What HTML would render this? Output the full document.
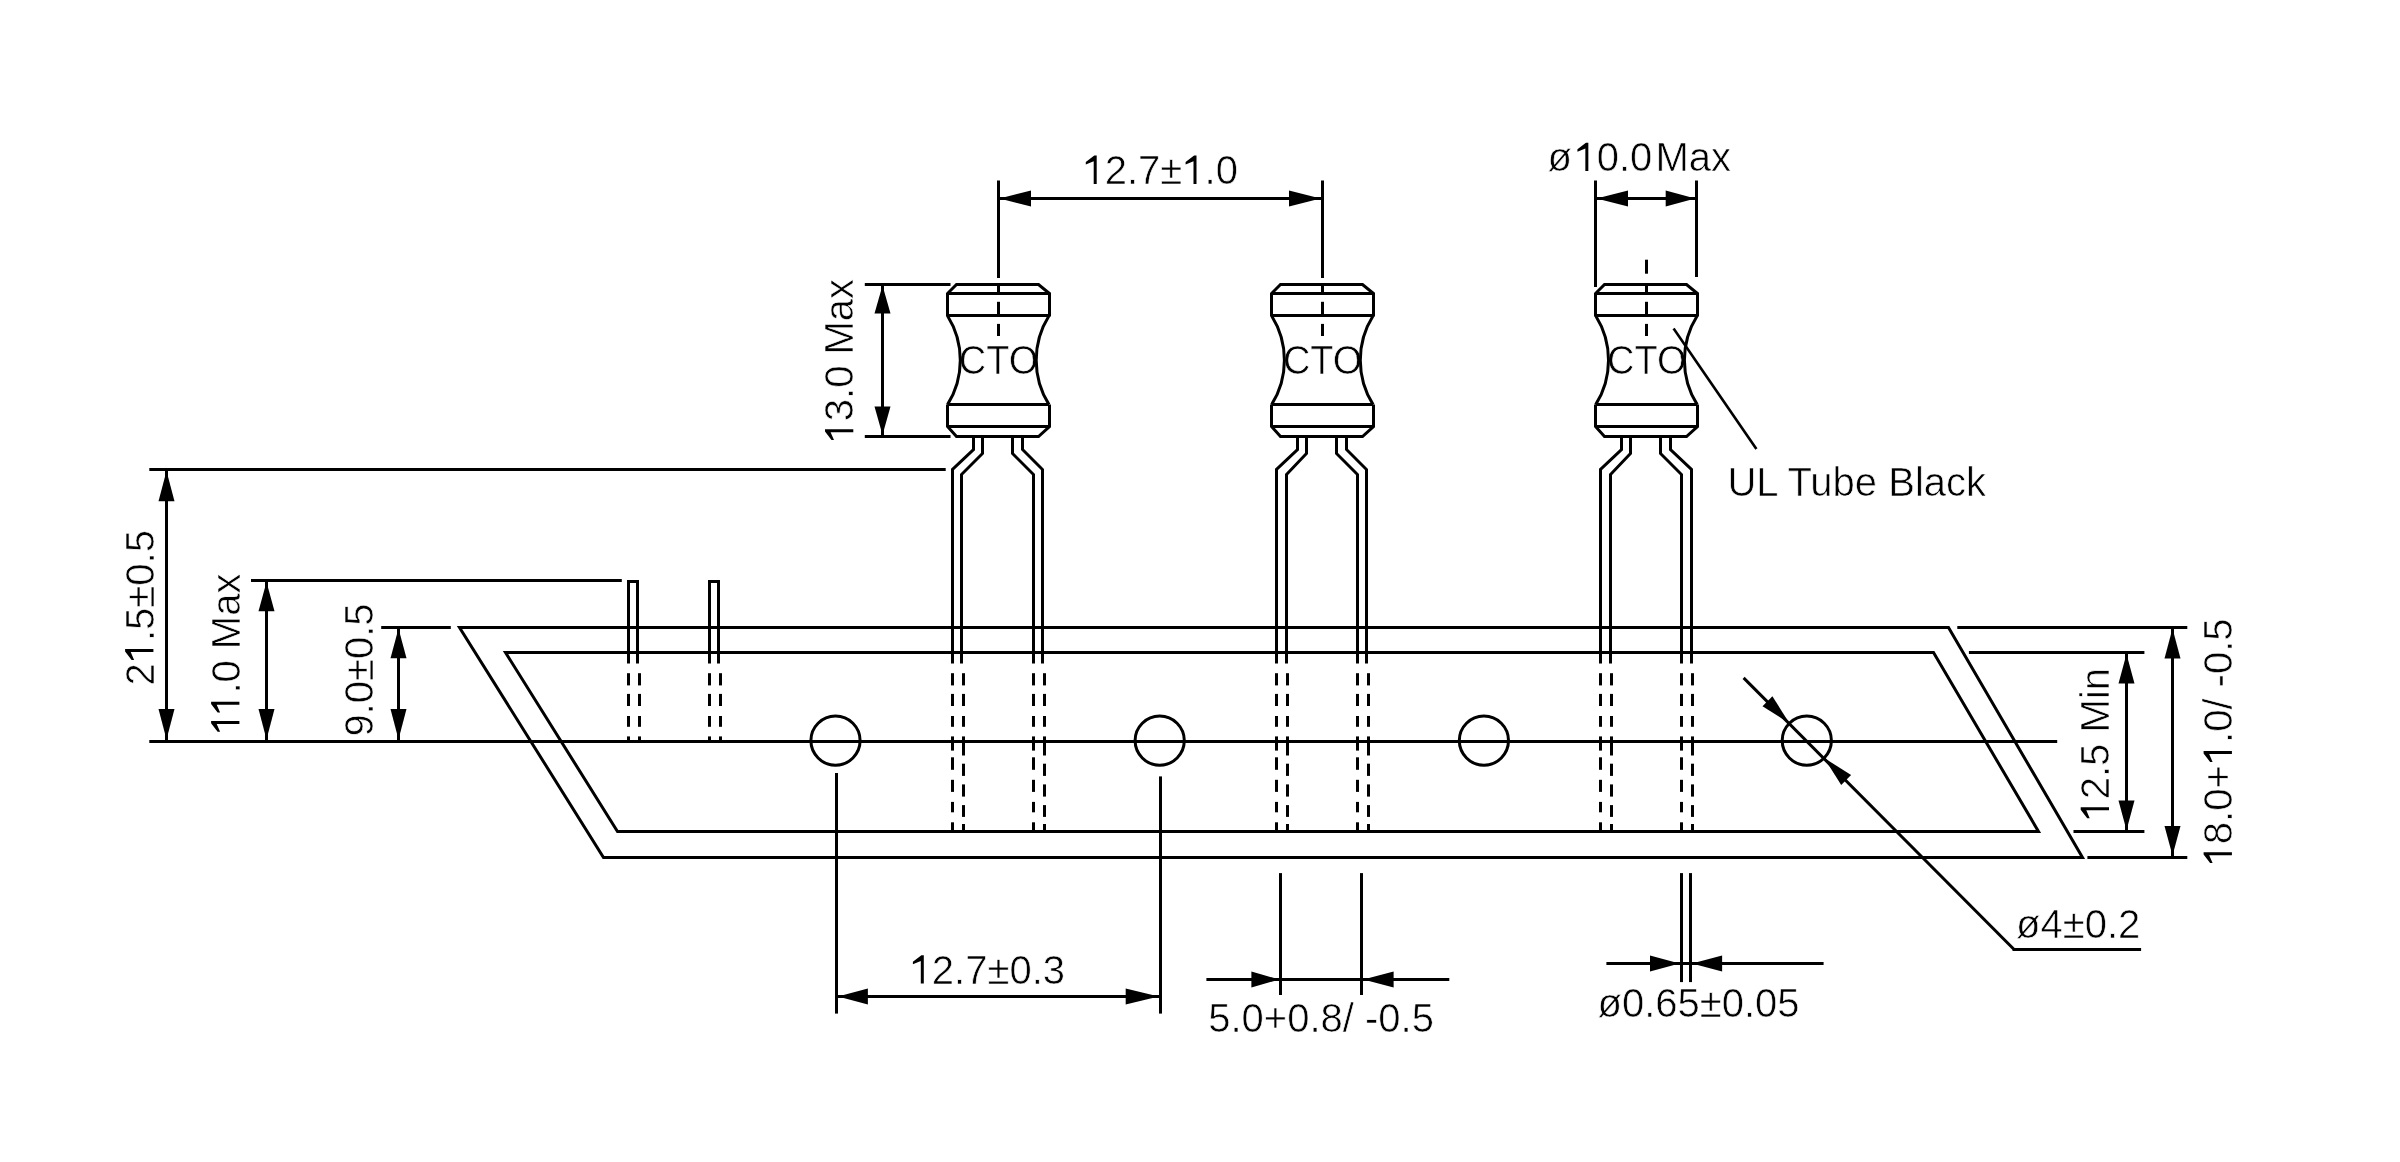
<!DOCTYPE html>
<html><head><meta charset="utf-8"><style>
html,body{margin:0;padding:0;background:#fff;width:2400px;height:1162px;overflow:hidden}
svg{display:block;will-change:transform}
text{font-family:"Liberation Sans",sans-serif;font-size:40px;fill:#000;stroke:#fff;stroke-width:0.6px}
</style></head><body>
<svg width="2400" height="1162" viewBox="0 0 2400 1162">
<rect width="2400" height="1162" fill="#fff"/>
<g stroke="#000" stroke-linecap="butt" stroke-linejoin="miter" fill="none">
<g transform="translate(1082.5,184.0)"><text x="0.00 22.23 44.48 55.59 77.84 99.80 122.05 133.16" y="0"> 2.7± .0</text><path d="M11.80,-28.40 L14.20,-28.40 L14.20,-0.10 L11.20,-0.10 L11.20,-22.80 L3.30,-19.40 L3.30,-21.90Z" fill="#000" stroke="none"/><path d="M111.60,-28.40 L114.00,-28.40 L114.00,-0.10 L111.00,-0.10 L111.00,-22.80 L103.10,-19.40 L103.10,-21.90Z" fill="#000" stroke="none"/></g>
<g transform="translate(1547.5,171.2)"><text x="0.00 26.64 49.19 71.44 82.56 108.01 141.34 163.59" y="0">ø 0.0Max</text><path d="M38.44,-28.40 L40.84,-28.40 L40.84,-0.10 L37.84,-0.10 L37.84,-22.80 L29.94,-19.40 L29.94,-21.90Z" fill="#000" stroke="none"/></g>
<g transform="translate(958.8,374.2) scale(0.95,1)"><text x="0.00 28.87 52.58" y="0">CTO</text></g>
<g transform="translate(1282.9,374.2) scale(0.95,1)"><text x="0.00 28.87 52.58" y="0">CTO</text></g>
<g transform="translate(1607.0,374.2) scale(0.95,1)"><text x="0.00 28.87 52.58" y="0">CTO</text></g>
<g transform="translate(153.5,685.5) rotate(-90)"><text x="0.00 22.23 44.48 55.59 77.84 99.80 122.05 133.16" y="0">2 .5±0.5</text><path d="M34.03,-28.40 L36.43,-28.40 L36.43,-0.10 L33.43,-0.10 L33.43,-22.80 L25.53,-19.40 L25.53,-21.90Z" fill="#000" stroke="none"/></g>
<g transform="translate(239.5,735.1) rotate(-90)"><text x="0.00 19.27 41.52 52.62 74.88 85.98 119.31 141.56" y="0">  .0 Max</text><path d="M11.80,-28.40 L14.20,-28.40 L14.20,-0.10 L11.20,-0.10 L11.20,-22.80 L3.30,-19.40 L3.30,-21.90Z" fill="#000" stroke="none"/><path d="M31.07,-28.40 L33.47,-28.40 L33.47,-0.10 L30.47,-0.10 L30.47,-22.80 L22.57,-19.40 L22.57,-21.90Z" fill="#000" stroke="none"/></g>
<g transform="translate(372.7,736.6) rotate(-90)"><text x="0.00 22.23 33.36 55.59 77.55 99.80 110.91" y="0">9.0±0.5</text></g>
<g transform="translate(853.4,443.4) rotate(-90)"><text x="0.00 22.23 44.48 55.59 77.84 88.95 122.28 144.53" y="0"> 3.0 Max</text><path d="M11.80,-28.40 L14.20,-28.40 L14.20,-0.10 L11.20,-0.10 L11.20,-22.80 L3.30,-19.40 L3.30,-21.90Z" fill="#000" stroke="none"/></g>
<g transform="translate(2232.0,866.4) rotate(-90)"><text x="0.00 22.23 44.48 55.59 77.84 101.20 123.45 134.56 156.81 167.92 179.03 192.36 214.61 225.72" y="0"> 8.0+ .0/ -0.5</text><path d="M11.80,-28.40 L14.20,-28.40 L14.20,-0.10 L11.20,-0.10 L11.20,-22.80 L3.30,-19.40 L3.30,-21.90Z" fill="#000" stroke="none"/><path d="M113.00,-28.40 L115.40,-28.40 L115.40,-0.10 L112.40,-0.10 L112.40,-22.80 L104.50,-19.40 L104.50,-21.90Z" fill="#000" stroke="none"/></g>
<g transform="translate(2109.1,821.5) rotate(-90)"><text x="0.00 22.23 44.48 55.59 77.84 88.95 122.28 131.17" y="0"> 2.5 Min</text><path d="M11.80,-28.40 L14.20,-28.40 L14.20,-0.10 L11.20,-0.10 L11.20,-22.80 L3.30,-19.40 L3.30,-21.90Z" fill="#000" stroke="none"/></g>
<g transform="translate(909.6,983.7)"><text x="0.00 22.23 44.48 55.59 77.84 99.80 122.05 133.16" y="0"> 2.7±0.3</text><path d="M11.80,-28.40 L14.20,-28.40 L14.20,-0.10 L11.20,-0.10 L11.20,-22.80 L3.30,-19.40 L3.30,-21.90Z" fill="#000" stroke="none"/></g>
<g transform="translate(1208.2,1032.3)"><text x="0.00 22.23 33.36 55.59 78.95 101.20 112.31 134.56 145.67 156.80 170.11 192.36 203.47" y="0">5.0+0.8/ -0.5</text></g>
<g transform="translate(1597.5,1016.8)"><text x="0.00 24.42 46.67 57.78 80.03 102.28 124.23 146.48 157.59 179.84" y="0">ø0.65±0.05</text></g>
<g transform="translate(2016.1,937.5)"><text x="0.00 24.42 46.67 68.62 90.88 101.98" y="0">ø4±0.2</text></g>
<g transform="translate(1727.4,495.6)"><text x="0.00 28.88 49.64 60.03 82.98 105.23 127.47 149.72 160.83 187.52 196.41 218.64 238.64" y="0">UL Tube Black</text></g>
<line x1="998.5" y1="180.5" x2="998.5" y2="278.0" stroke-width="3"/>
<line x1="1322.5" y1="180.5" x2="1322.5" y2="278.0" stroke-width="3"/>
<line x1="998.5" y1="198.5" x2="1322.0" y2="198.5" stroke-width="3"/>
<polygon points="999.5,198.5 1031.0,190.5 1031.0,206.5" fill="#000" stroke="none"/>
<polygon points="1320.5,198.5 1289.0,206.5 1289.0,190.5" fill="#000" stroke="none"/>
<line x1="1595.5" y1="180.5" x2="1595.5" y2="287.0" stroke-width="3"/>
<line x1="1696.5" y1="180.5" x2="1696.5" y2="277.0" stroke-width="3"/>
<line x1="1595.0" y1="198.5" x2="1696.7" y2="198.5" stroke-width="3"/>
<polygon points="1596.5,198.5 1628.0,190.5 1628.0,206.5" fill="#000" stroke="none"/>
<polygon points="1695.2,198.5 1665.7,206.5 1665.7,190.5" fill="#000" stroke="none"/>
<polyline points="947.5,316.5 947.5,293.5 956.5,284.5 1038.5,284.5 1049.5,293.5 1049.5,316.5" fill="none" stroke-width="3"/>
<line x1="947.5" y1="293.5" x2="1049.0" y2="293.5" stroke-width="3"/>
<line x1="947.5" y1="315.5" x2="1049.0" y2="315.5" stroke-width="3"/>
<path d="M947.5,315.7 A83.6,83.6 0 0 1 947.5,404.6" fill="none" stroke-width="3"/>
<path d="M1049.0,315.7 A83.6,83.6 0 0 0 1049.0,404.6" fill="none" stroke-width="3"/>
<polyline points="947.5,404.5 947.5,426.5 956.5,436.5 1038.5,436.5 1049.5,426.5 1049.5,404.5" fill="none" stroke-width="3"/>
<line x1="947.5" y1="404.5" x2="1049.0" y2="404.5" stroke-width="3"/>
<line x1="947.5" y1="426.5" x2="1049.0" y2="426.5" stroke-width="3"/>
<line x1="998.5" y1="284.1" x2="998.5" y2="293.8" stroke-width="3"/>
<line x1="998.5" y1="301.8" x2="998.5" y2="315.7" stroke-width="3"/>
<line x1="998.5" y1="323.9" x2="998.5" y2="336.0" stroke-width="3"/>
<polyline points="973.5,436.5 973.5,449.5 952.5,469.5 952.5,663.5" fill="none" stroke-width="3"/>
<polyline points="982.5,436.5 982.5,453.5 961.5,474.5 961.5,663.5" fill="none" stroke-width="3"/>
<polyline points="1012.5,436.5 1012.5,453.5 1033.5,474.5 1033.5,663.5" fill="none" stroke-width="3"/>
<polyline points="1022.5,436.5 1022.5,449.5 1042.5,469.5 1042.5,663.5" fill="none" stroke-width="3"/>
<line x1="952.5" y1="673.2" x2="952.5" y2="685.4" stroke-width="3"/>
<line x1="952.5" y1="693.9" x2="952.5" y2="706.0" stroke-width="3"/>
<line x1="952.5" y1="716.0" x2="952.5" y2="726.8" stroke-width="3"/>
<line x1="952.5" y1="736.4" x2="952.5" y2="741.0" stroke-width="3"/>
<line x1="952.5" y1="741.0" x2="952.5" y2="750.6" stroke-width="3"/>
<line x1="952.5" y1="757.3" x2="952.5" y2="769.8" stroke-width="3"/>
<line x1="952.5" y1="779.8" x2="952.5" y2="791.9" stroke-width="3"/>
<line x1="952.5" y1="801.9" x2="952.5" y2="812.3" stroke-width="3"/>
<line x1="952.5" y1="822.3" x2="952.5" y2="831.6" stroke-width="3"/>
<line x1="963.5" y1="673.2" x2="963.5" y2="685.4" stroke-width="3"/>
<line x1="963.5" y1="693.9" x2="963.5" y2="706.0" stroke-width="3"/>
<line x1="963.5" y1="716.0" x2="963.5" y2="726.8" stroke-width="3"/>
<line x1="963.5" y1="736.4" x2="963.5" y2="741.0" stroke-width="3"/>
<line x1="963.5" y1="741.0" x2="963.5" y2="755.5" stroke-width="3"/>
<line x1="963.5" y1="763.7" x2="963.5" y2="775.9" stroke-width="3"/>
<line x1="963.5" y1="784.4" x2="963.5" y2="796.6" stroke-width="3"/>
<line x1="963.5" y1="805.1" x2="963.5" y2="816.9" stroke-width="3"/>
<line x1="963.5" y1="824.0" x2="963.5" y2="831.6" stroke-width="3"/>
<line x1="1033.5" y1="673.2" x2="1033.5" y2="685.4" stroke-width="3"/>
<line x1="1033.5" y1="693.9" x2="1033.5" y2="706.0" stroke-width="3"/>
<line x1="1033.5" y1="716.0" x2="1033.5" y2="726.8" stroke-width="3"/>
<line x1="1033.5" y1="736.4" x2="1033.5" y2="741.0" stroke-width="3"/>
<line x1="1033.5" y1="741.0" x2="1033.5" y2="750.6" stroke-width="3"/>
<line x1="1033.5" y1="757.3" x2="1033.5" y2="769.8" stroke-width="3"/>
<line x1="1033.5" y1="779.8" x2="1033.5" y2="791.9" stroke-width="3"/>
<line x1="1033.5" y1="801.9" x2="1033.5" y2="812.3" stroke-width="3"/>
<line x1="1033.5" y1="822.3" x2="1033.5" y2="831.6" stroke-width="3"/>
<line x1="1044.5" y1="673.2" x2="1044.5" y2="685.4" stroke-width="3"/>
<line x1="1044.5" y1="693.9" x2="1044.5" y2="706.0" stroke-width="3"/>
<line x1="1044.5" y1="716.0" x2="1044.5" y2="726.8" stroke-width="3"/>
<line x1="1044.5" y1="736.4" x2="1044.5" y2="741.0" stroke-width="3"/>
<line x1="1044.5" y1="741.0" x2="1044.5" y2="755.5" stroke-width="3"/>
<line x1="1044.5" y1="763.7" x2="1044.5" y2="775.9" stroke-width="3"/>
<line x1="1044.5" y1="784.4" x2="1044.5" y2="796.6" stroke-width="3"/>
<line x1="1044.5" y1="805.1" x2="1044.5" y2="816.9" stroke-width="3"/>
<line x1="1044.5" y1="824.0" x2="1044.5" y2="831.6" stroke-width="3"/>
<polyline points="1271.5,316.5 1271.5,293.5 1280.5,284.5 1362.5,284.5 1373.5,293.5 1373.5,316.5" fill="none" stroke-width="3"/>
<line x1="1271.6" y1="293.5" x2="1373.1" y2="293.5" stroke-width="3"/>
<line x1="1271.6" y1="315.5" x2="1373.1" y2="315.5" stroke-width="3"/>
<path d="M1271.6,315.7 A83.6,83.6 0 0 1 1271.6,404.6" fill="none" stroke-width="3"/>
<path d="M1373.1,315.7 A83.6,83.6 0 0 0 1373.1,404.6" fill="none" stroke-width="3"/>
<polyline points="1271.5,404.5 1271.5,426.5 1280.5,436.5 1362.5,436.5 1373.5,426.5 1373.5,404.5" fill="none" stroke-width="3"/>
<line x1="1271.6" y1="404.5" x2="1373.1" y2="404.5" stroke-width="3"/>
<line x1="1271.6" y1="426.5" x2="1373.1" y2="426.5" stroke-width="3"/>
<line x1="1322.5" y1="284.1" x2="1322.5" y2="293.8" stroke-width="3"/>
<line x1="1322.5" y1="301.8" x2="1322.5" y2="315.7" stroke-width="3"/>
<line x1="1322.5" y1="323.9" x2="1322.5" y2="336.0" stroke-width="3"/>
<polyline points="1297.5,436.5 1297.5,449.5 1276.5,469.5 1276.5,663.5" fill="none" stroke-width="3"/>
<polyline points="1306.5,436.5 1306.5,453.5 1286.5,474.5 1286.5,663.5" fill="none" stroke-width="3"/>
<polyline points="1336.5,436.5 1336.5,453.5 1357.5,474.5 1357.5,663.5" fill="none" stroke-width="3"/>
<polyline points="1346.5,436.5 1346.5,449.5 1366.5,469.5 1366.5,663.5" fill="none" stroke-width="3"/>
<line x1="1276.5" y1="673.2" x2="1276.5" y2="685.4" stroke-width="3"/>
<line x1="1276.5" y1="693.9" x2="1276.5" y2="706.0" stroke-width="3"/>
<line x1="1276.5" y1="716.0" x2="1276.5" y2="726.8" stroke-width="3"/>
<line x1="1276.5" y1="736.4" x2="1276.5" y2="741.0" stroke-width="3"/>
<line x1="1276.5" y1="741.0" x2="1276.5" y2="750.6" stroke-width="3"/>
<line x1="1276.5" y1="757.3" x2="1276.5" y2="769.8" stroke-width="3"/>
<line x1="1276.5" y1="779.8" x2="1276.5" y2="791.9" stroke-width="3"/>
<line x1="1276.5" y1="801.9" x2="1276.5" y2="812.3" stroke-width="3"/>
<line x1="1276.5" y1="822.3" x2="1276.5" y2="831.6" stroke-width="3"/>
<line x1="1287.5" y1="673.2" x2="1287.5" y2="685.4" stroke-width="3"/>
<line x1="1287.5" y1="693.9" x2="1287.5" y2="706.0" stroke-width="3"/>
<line x1="1287.5" y1="716.0" x2="1287.5" y2="726.8" stroke-width="3"/>
<line x1="1287.5" y1="736.4" x2="1287.5" y2="741.0" stroke-width="3"/>
<line x1="1287.5" y1="741.0" x2="1287.5" y2="755.5" stroke-width="3"/>
<line x1="1287.5" y1="763.7" x2="1287.5" y2="775.9" stroke-width="3"/>
<line x1="1287.5" y1="784.4" x2="1287.5" y2="796.6" stroke-width="3"/>
<line x1="1287.5" y1="805.1" x2="1287.5" y2="816.9" stroke-width="3"/>
<line x1="1287.5" y1="824.0" x2="1287.5" y2="831.6" stroke-width="3"/>
<line x1="1357.5" y1="673.2" x2="1357.5" y2="685.4" stroke-width="3"/>
<line x1="1357.5" y1="693.9" x2="1357.5" y2="706.0" stroke-width="3"/>
<line x1="1357.5" y1="716.0" x2="1357.5" y2="726.8" stroke-width="3"/>
<line x1="1357.5" y1="736.4" x2="1357.5" y2="741.0" stroke-width="3"/>
<line x1="1357.5" y1="741.0" x2="1357.5" y2="750.6" stroke-width="3"/>
<line x1="1357.5" y1="757.3" x2="1357.5" y2="769.8" stroke-width="3"/>
<line x1="1357.5" y1="779.8" x2="1357.5" y2="791.9" stroke-width="3"/>
<line x1="1357.5" y1="801.9" x2="1357.5" y2="812.3" stroke-width="3"/>
<line x1="1357.5" y1="822.3" x2="1357.5" y2="831.6" stroke-width="3"/>
<line x1="1368.5" y1="673.2" x2="1368.5" y2="685.4" stroke-width="3"/>
<line x1="1368.5" y1="693.9" x2="1368.5" y2="706.0" stroke-width="3"/>
<line x1="1368.5" y1="716.0" x2="1368.5" y2="726.8" stroke-width="3"/>
<line x1="1368.5" y1="736.4" x2="1368.5" y2="741.0" stroke-width="3"/>
<line x1="1368.5" y1="741.0" x2="1368.5" y2="755.5" stroke-width="3"/>
<line x1="1368.5" y1="763.7" x2="1368.5" y2="775.9" stroke-width="3"/>
<line x1="1368.5" y1="784.4" x2="1368.5" y2="796.6" stroke-width="3"/>
<line x1="1368.5" y1="805.1" x2="1368.5" y2="816.9" stroke-width="3"/>
<line x1="1368.5" y1="824.0" x2="1368.5" y2="831.6" stroke-width="3"/>
<polyline points="1595.5,316.5 1595.5,293.5 1604.5,284.5 1686.5,284.5 1697.5,293.5 1697.5,316.5" fill="none" stroke-width="3"/>
<line x1="1595.7" y1="293.5" x2="1697.2" y2="293.5" stroke-width="3"/>
<line x1="1595.7" y1="315.5" x2="1697.2" y2="315.5" stroke-width="3"/>
<path d="M1595.7,315.7 A83.6,83.6 0 0 1 1595.7,404.6" fill="none" stroke-width="3"/>
<path d="M1697.2,315.7 A83.6,83.6 0 0 0 1697.2,404.6" fill="none" stroke-width="3"/>
<polyline points="1595.5,404.5 1595.5,426.5 1604.5,436.5 1686.5,436.5 1697.5,426.5 1697.5,404.5" fill="none" stroke-width="3"/>
<line x1="1595.7" y1="404.5" x2="1697.2" y2="404.5" stroke-width="3"/>
<line x1="1595.7" y1="426.5" x2="1697.2" y2="426.5" stroke-width="3"/>
<line x1="1646.5" y1="284.1" x2="1646.5" y2="293.8" stroke-width="3"/>
<line x1="1646.5" y1="301.8" x2="1646.5" y2="315.7" stroke-width="3"/>
<line x1="1646.5" y1="323.9" x2="1646.5" y2="336.0" stroke-width="3"/>
<line x1="1646.5" y1="259.7" x2="1646.5" y2="273.7" stroke-width="3"/>
<polyline points="1621.5,436.5 1621.5,449.5 1600.5,469.5 1600.5,663.5" fill="none" stroke-width="3"/>
<polyline points="1630.5,436.5 1630.5,453.5 1610.5,474.5 1610.5,663.5" fill="none" stroke-width="3"/>
<polyline points="1660.5,436.5 1660.5,453.5 1681.5,474.5 1681.5,663.5" fill="none" stroke-width="3"/>
<polyline points="1670.5,436.5 1670.5,449.5 1691.5,469.5 1691.5,663.5" fill="none" stroke-width="3"/>
<line x1="1600.5" y1="673.2" x2="1600.5" y2="685.4" stroke-width="3"/>
<line x1="1600.5" y1="693.9" x2="1600.5" y2="706.0" stroke-width="3"/>
<line x1="1600.5" y1="716.0" x2="1600.5" y2="726.8" stroke-width="3"/>
<line x1="1600.5" y1="736.4" x2="1600.5" y2="741.0" stroke-width="3"/>
<line x1="1600.5" y1="741.0" x2="1600.5" y2="750.6" stroke-width="3"/>
<line x1="1600.5" y1="757.3" x2="1600.5" y2="769.8" stroke-width="3"/>
<line x1="1600.5" y1="779.8" x2="1600.5" y2="791.9" stroke-width="3"/>
<line x1="1600.5" y1="801.9" x2="1600.5" y2="812.3" stroke-width="3"/>
<line x1="1600.5" y1="822.3" x2="1600.5" y2="831.6" stroke-width="3"/>
<line x1="1611.5" y1="673.2" x2="1611.5" y2="685.4" stroke-width="3"/>
<line x1="1611.5" y1="693.9" x2="1611.5" y2="706.0" stroke-width="3"/>
<line x1="1611.5" y1="716.0" x2="1611.5" y2="726.8" stroke-width="3"/>
<line x1="1611.5" y1="736.4" x2="1611.5" y2="741.0" stroke-width="3"/>
<line x1="1611.5" y1="741.0" x2="1611.5" y2="755.5" stroke-width="3"/>
<line x1="1611.5" y1="763.7" x2="1611.5" y2="775.9" stroke-width="3"/>
<line x1="1611.5" y1="784.4" x2="1611.5" y2="796.6" stroke-width="3"/>
<line x1="1611.5" y1="805.1" x2="1611.5" y2="816.9" stroke-width="3"/>
<line x1="1611.5" y1="824.0" x2="1611.5" y2="831.6" stroke-width="3"/>
<line x1="1681.5" y1="673.2" x2="1681.5" y2="685.4" stroke-width="3"/>
<line x1="1681.5" y1="693.9" x2="1681.5" y2="706.0" stroke-width="3"/>
<line x1="1681.5" y1="716.0" x2="1681.5" y2="726.8" stroke-width="3"/>
<line x1="1681.5" y1="736.4" x2="1681.5" y2="741.0" stroke-width="3"/>
<line x1="1681.5" y1="741.0" x2="1681.5" y2="750.6" stroke-width="3"/>
<line x1="1681.5" y1="757.3" x2="1681.5" y2="769.8" stroke-width="3"/>
<line x1="1681.5" y1="779.8" x2="1681.5" y2="791.9" stroke-width="3"/>
<line x1="1681.5" y1="801.9" x2="1681.5" y2="812.3" stroke-width="3"/>
<line x1="1681.5" y1="822.3" x2="1681.5" y2="831.6" stroke-width="3"/>
<line x1="1692.5" y1="673.2" x2="1692.5" y2="685.4" stroke-width="3"/>
<line x1="1692.5" y1="693.9" x2="1692.5" y2="706.0" stroke-width="3"/>
<line x1="1692.5" y1="716.0" x2="1692.5" y2="726.8" stroke-width="3"/>
<line x1="1692.5" y1="736.4" x2="1692.5" y2="741.0" stroke-width="3"/>
<line x1="1692.5" y1="741.0" x2="1692.5" y2="755.5" stroke-width="3"/>
<line x1="1692.5" y1="763.7" x2="1692.5" y2="775.9" stroke-width="3"/>
<line x1="1692.5" y1="784.4" x2="1692.5" y2="796.6" stroke-width="3"/>
<line x1="1692.5" y1="805.1" x2="1692.5" y2="816.9" stroke-width="3"/>
<line x1="1692.5" y1="824.0" x2="1692.5" y2="831.6" stroke-width="3"/>
<polyline points="628.5,663.5 628.5,581.5 637.5,581.5 637.5,663.5" fill="none" stroke-width="3"/>
<line x1="628.5" y1="673.2" x2="628.5" y2="685.4" stroke-width="3"/>
<line x1="628.5" y1="693.9" x2="628.5" y2="706.0" stroke-width="3"/>
<line x1="628.5" y1="716.0" x2="628.5" y2="726.8" stroke-width="3"/>
<line x1="628.5" y1="736.4" x2="628.5" y2="741.0" stroke-width="3"/>
<line x1="639.5" y1="673.2" x2="639.5" y2="685.4" stroke-width="3"/>
<line x1="639.5" y1="693.9" x2="639.5" y2="706.0" stroke-width="3"/>
<line x1="639.5" y1="716.0" x2="639.5" y2="726.8" stroke-width="3"/>
<line x1="639.5" y1="736.4" x2="639.5" y2="741.0" stroke-width="3"/>
<polyline points="709.5,663.5 709.5,581.5 718.5,581.5 718.5,663.5" fill="none" stroke-width="3"/>
<line x1="709.5" y1="673.2" x2="709.5" y2="685.4" stroke-width="3"/>
<line x1="709.5" y1="693.9" x2="709.5" y2="706.0" stroke-width="3"/>
<line x1="709.5" y1="716.0" x2="709.5" y2="726.8" stroke-width="3"/>
<line x1="709.5" y1="736.4" x2="709.5" y2="741.0" stroke-width="3"/>
<line x1="720.5" y1="673.2" x2="720.5" y2="685.4" stroke-width="3"/>
<line x1="720.5" y1="693.9" x2="720.5" y2="706.0" stroke-width="3"/>
<line x1="720.5" y1="716.0" x2="720.5" y2="726.8" stroke-width="3"/>
<line x1="720.5" y1="736.4" x2="720.5" y2="741.0" stroke-width="3"/>
<polygon points="459.5,627.5 1948.5,627.5 2082.5,857.5 603.5,857.5" fill="none" stroke-width="3"/>
<polygon points="505.5,652.5 1933.5,652.5 2038.5,831.5 617.5,831.5" fill="none" stroke-width="3"/>
<line x1="149.3" y1="741.5" x2="2057.2" y2="741.5" stroke-width="3"/>
<circle cx="835.5" cy="740.6" r="24.6" fill="none" stroke-width="3"/>
<circle cx="1159.7" cy="740.6" r="24.6" fill="none" stroke-width="3"/>
<circle cx="1483.9" cy="740.6" r="24.6" fill="none" stroke-width="3"/>
<circle cx="1806.8" cy="740.6" r="24.6" fill="none" stroke-width="3"/>
<line x1="149.3" y1="469.5" x2="945.7" y2="469.5" stroke-width="3"/>
<line x1="166.5" y1="469.7" x2="166.5" y2="741.0" stroke-width="3"/>
<polygon points="166.5,471.0 174.5,501.2 158.5,501.2" fill="#000" stroke="none"/>
<polygon points="166.5,739.5 158.5,709.0 174.5,709.0" fill="#000" stroke="none"/>
<line x1="251.0" y1="580.5" x2="621.8" y2="580.5" stroke-width="3"/>
<line x1="266.5" y1="580.7" x2="266.5" y2="741.0" stroke-width="3"/>
<polygon points="266.5,582.0 274.5,611.2 258.5,611.2" fill="#000" stroke="none"/>
<polygon points="266.5,739.5 258.5,709.0 274.5,709.0" fill="#000" stroke="none"/>
<line x1="381.2" y1="627.5" x2="450.8" y2="627.5" stroke-width="3"/>
<line x1="398.5" y1="627.0" x2="398.5" y2="741.0" stroke-width="3"/>
<polygon points="398.5,628.5 406.5,658.2 390.5,658.2" fill="#000" stroke="none"/>
<polygon points="398.5,739.5 390.5,709.0 406.5,709.0" fill="#000" stroke="none"/>
<line x1="864.8" y1="284.5" x2="950.5" y2="284.5" stroke-width="3"/>
<line x1="864.8" y1="436.5" x2="950.5" y2="436.5" stroke-width="3"/>
<line x1="882.5" y1="284.1" x2="882.5" y2="436.5" stroke-width="3"/>
<polygon points="882.5,285.5 890.5,313.6 874.5,313.6" fill="#000" stroke="none"/>
<polygon points="882.5,435.0 874.5,406.5 890.5,406.5" fill="#000" stroke="none"/>
<line x1="1957.3" y1="627.5" x2="2187.3" y2="627.5" stroke-width="3"/>
<line x1="2087.4" y1="857.5" x2="2187.3" y2="857.5" stroke-width="3"/>
<line x1="2172.5" y1="627.0" x2="2172.5" y2="857.0" stroke-width="3"/>
<polygon points="2172.5,628.5 2180.5,658.6 2164.5,658.6" fill="#000" stroke="none"/>
<polygon points="2172.5,855.5 2164.5,826.0 2180.5,826.0" fill="#000" stroke="none"/>
<line x1="1968.9" y1="652.5" x2="2144.4" y2="652.5" stroke-width="3"/>
<line x1="2073.5" y1="831.5" x2="2144.4" y2="831.5" stroke-width="3"/>
<line x1="2126.5" y1="652.7" x2="2126.5" y2="831.7" stroke-width="3"/>
<polygon points="2126.5,654.0 2134.5,683.6 2118.5,683.6" fill="#000" stroke="none"/>
<polygon points="2126.5,830.2 2118.5,800.4 2134.5,800.4" fill="#000" stroke="none"/>
<line x1="836.5" y1="773.0" x2="836.5" y2="1013.6" stroke-width="3"/>
<line x1="1160.5" y1="776.4" x2="1160.5" y2="1013.6" stroke-width="3"/>
<line x1="836.4" y1="996.5" x2="1160.3" y2="996.5" stroke-width="3"/>
<polygon points="838.0,996.5 867.9,988.5 867.9,1004.5" fill="#000" stroke="none"/>
<polygon points="1158.7,996.5 1125.7,1004.5 1125.7,988.5" fill="#000" stroke="none"/>
<line x1="1280.5" y1="873.1" x2="1280.5" y2="995.0" stroke-width="3"/>
<line x1="1361.5" y1="873.1" x2="1361.5" y2="995.0" stroke-width="3"/>
<line x1="1206.4" y1="979.5" x2="1449.3" y2="979.5" stroke-width="3"/>
<polygon points="1279.2,979.5 1251.4,987.5 1251.4,971.5" fill="#000" stroke="none"/>
<polygon points="1363.3,979.5 1393.6,971.5 1393.6,987.5" fill="#000" stroke="none"/>
<line x1="1681.5" y1="873.1" x2="1681.5" y2="982.1" stroke-width="3"/>
<line x1="1690.5" y1="873.1" x2="1690.5" y2="982.1" stroke-width="3"/>
<line x1="1606.4" y1="963.5" x2="1823.6" y2="963.5" stroke-width="3"/>
<polygon points="1679.5,963.5 1650.0,971.5 1650.0,955.5" fill="#000" stroke="none"/>
<polygon points="1692.0,963.5 1722.1,955.5 1722.1,971.5" fill="#000" stroke="none"/>
<line x1="1743.6" y1="677.9" x2="2013.6" y2="949.0" stroke-width="3"/>
<line x1="2012.5" y1="949.5" x2="2141.1" y2="949.5" stroke-width="3"/>
<polygon points="1789.4,723.2 1762.5,706.2 1772.4,696.3" fill="#000" stroke="none"/>
<polygon points="1824.2,758.0 1851.1,775.0 1841.2,784.9" fill="#000" stroke="none"/>
<line x1="1673.6" y1="328.5" x2="1756.4" y2="449.0" stroke-width="2.6"/>
</g>
</svg></body></html>
